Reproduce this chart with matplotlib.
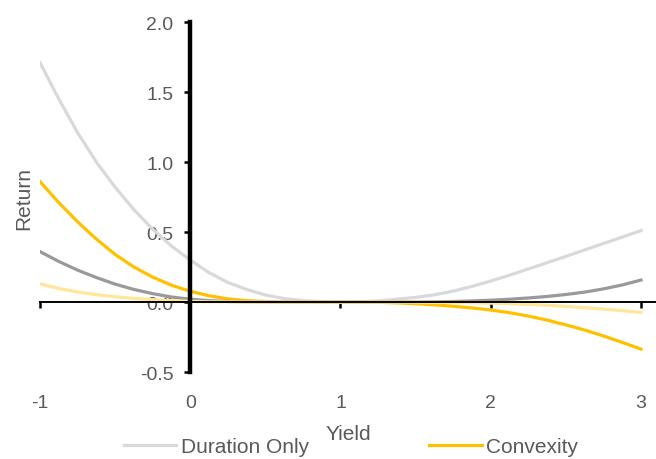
import numpy as np
import matplotlib.pyplot as plt

plt.rcParams['font.family'] = ['Liberation Sans', 'DejaVu Sans']

# yield grid (values every 0.125)
yields = [-1.0, -0.875, -0.75, -0.625, -0.5, -0.375, -0.25, -0.125,
          0.0, 0.125, 0.25, 0.375, 0.5, 0.625, 0.75, 0.875,
          1.0, 1.125, 1.25, 1.375, 1.5, 1.625, 1.75, 1.875,
          2.0, 2.125, 2.25, 2.375, 2.5, 2.625, 2.75, 2.875, 3.0]

# returns
duration_only = [1.71, 1.45, 1.21, 1.0, 0.82, 0.66, 0.52, 0.40,
                 0.30, 0.21, 0.14, 0.09, 0.05, 0.025, 0.01, 0.003,
                 0.0, 0.002, 0.008, 0.02, 0.033, 0.052, 0.078, 0.112,
                 0.15, 0.192, 0.236, 0.281, 0.326, 0.372, 0.418, 0.464, 0.51]
convexity = [0.86, 0.71, 0.573, 0.45, 0.34, 0.25, 0.178, 0.12,
             0.077, 0.045, 0.023, 0.01, 0.004, 0.001, 0.0, 0.0,
             0.0, 0.0, -0.002, -0.006, -0.012, -0.02, -0.03, -0.042,
             -0.057, -0.076, -0.1, -0.129, -0.163, -0.2, -0.242, -0.288, -0.336]
series3 = [0.36, 0.29, 0.228, 0.175, 0.128, 0.09, 0.06, 0.036,
           0.02, 0.01, 0.004, 0.001, 0.0, 0.0, 0.0, 0.0,
           0.0, 0.0, 0.0, 0.001, 0.001, 0.002, 0.004, 0.008,
           0.013, 0.02, 0.029, 0.04, 0.054, 0.071, 0.094, 0.122, 0.157]
series4 = [0.13, 0.097, 0.072, 0.053, 0.038, 0.026, 0.017, 0.01,
           0.005, 0.002, 0.001, 0.0, 0.0, 0.0, 0.0, 0.0,
           0.0, 0.0, 0.0, 0.0, -0.001, -0.002, -0.003, -0.005,
           -0.008, -0.012, -0.017, -0.023, -0.031, -0.04, -0.05, -0.061, -0.074]

txt = '#595959'

fig = plt.figure(figsize=(6.56, 4.6), dpi=100)
ax = fig.add_axes([0.061, 0.189, 0.939, 0.761])

l1, = ax.plot(yields, duration_only, color='#D9D9D9', lw=2.3, label='Duration Only', solid_joinstyle='round')
l2, = ax.plot(yields, convexity, color='#FFC000', lw=2.3, label='Convexity', solid_joinstyle='round')
ax.plot(yields, series3, color='#999999', lw=2.3, solid_joinstyle='round')
ax.plot(yields, series4, color='#FFE699', lw=2.3, solid_joinstyle='round')

ax.set_xlim(-1, 3.1)
ax.set_ylim(-0.5, 2.0)
ax.set_xticks([-1, 0, 1, 2, 3])
ax.set_yticks([-0.5, 0.0, 0.5, 1.0, 1.5, 2.0])
ax.set_xticklabels(['-1', '0', '1', '2', '3'])
ax.set_yticklabels(['-0.5', '0.0', '0.5', '1.0', '1.5', '2.0'])

ax.spines['left'].set_position(('data', 0))
ax.spines['bottom'].set_position(('data', 0))
ax.spines['top'].set_visible(False)
ax.spines['right'].set_visible(False)
ax.spines['left'].set_linewidth(3.2)
ax.spines['bottom'].set_linewidth(1.4)
ax.spines['left'].set_color('black')
ax.spines['bottom'].set_color('black')

ax.tick_params(axis='y', direction='out', length=4, width=1.8, pad=8,
               labelsize=14, labelcolor=txt, color='black')
ax.tick_params(axis='x', direction='out', length=4, width=1.8, pad=62,
               labelsize=14, labelcolor=txt, color='black')

ax.set_ylabel('Return', fontsize=15, color=txt)
ax.yaxis.set_label_coords(-0.011, 0.5)
ax.set_xlabel('Yield', fontsize=15, color=txt)
ax.xaxis.set_label_coords(0.5, -0.149)

fig.legend(handles=[l1, l2], loc='center', bbox_to_anchor=(351 / 656, 1 - 448 / 460),
           ncol=2, frameon=False, fontsize=15, labelcolor=txt,
           handlelength=2.5, handletextpad=0.2, columnspacing=5.8)

fig.savefig('out.png', dpi=100)
